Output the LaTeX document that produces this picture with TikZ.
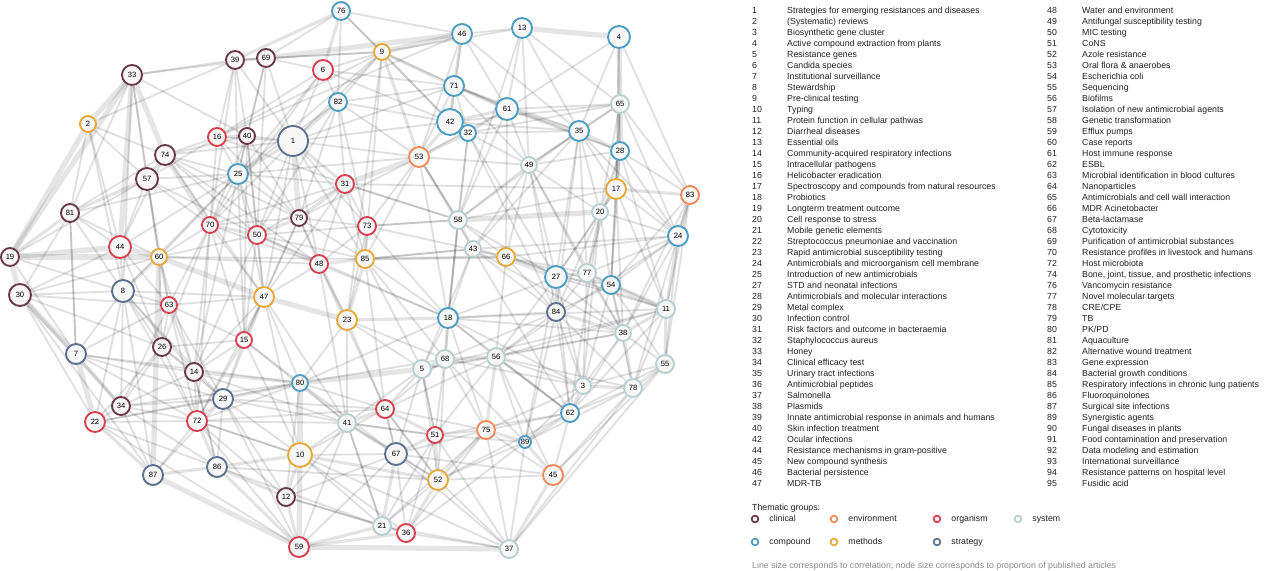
\documentclass[tikz,border=0pt]{standalone}
\usepackage{fontspec}
\setmainfont{Liberation Sans}
\usetikzlibrary{positioning}
\pgfdeclarelayer{background}
\pgfsetlayers{background,main}

\definecolor{clinc}{HTML}{6A3A4C}
\definecolor{envc}{HTML}{F08A5B}
\definecolor{orgc}{HTML}{D8414F}
\definecolor{sysc}{HTML}{B7CFCF}
\definecolor{compc}{HTML}{4C9DC1}
\definecolor{methc}{HTML}{E6A83A}
\definecolor{stratc}{HTML}{5D7090}
\definecolor{keytext}{HTML}{222222}
\definecolor{notetext}{HTML}{8A8A8A}

\begin{document}
\begin{tikzpicture}[
  x=0.03cm, y=-0.03cm,
  topic/.style={
    circle,
    fill=gray!6,
    line width=1.6pt,
    inner sep=0pt,
    font=\fontsize{6.5}{7}\selectfont
  },
  gclin/.style={draw=clinc},
  genv/.style={draw=envc},
  gorg/.style={draw=orgc},
  gsys/.style={draw=sysc},
  gcomp/.style={draw=compc},
  gmeth/.style={draw=methc},
  gstrat/.style={draw=stratc},
  bondthin/.style={draw=black, line width=1.6pt, draw opacity=0.12},
  bondmid/.style={draw=black, line width=2.7pt, draw opacity=0.11},
  bondthick/.style={draw=black, line width=4.5pt, draw opacity=0.10},
  keylist/.style={anchor=north west, inner sep=0pt, text=keytext,
    font=\fontsize{7.5}{9.39}\selectfont},
  marker/.style={circle, line width=1.5pt, minimum size=0.2cm, inner sep=0pt, fill=white},
  keylabel/.style={inner sep=0pt, text=keytext, text height=5.4pt, text depth=1.6pt,
    font=\fontsize{7.5}{9}\selectfont},
  node distance=0.3cm
]
\useasboundingbox (0,0) rectangle (1280,571);

% topics of the network
\foreach \n/\x/\y/\g/\r in {
  1/293/141/gstrat/15, 2/88/124/gmeth/8, 3/583/386/gsys/8, 4/619/37/gcomp/11,
  5/422/369/gsys/9, 6/323/70/gorg/10, 7/76/354/gstrat/10, 8/123/291/gstrat/11,
  9/382/52/gmeth/8, 10/300/455/gmeth/12, 11/666/309/gsys/9, 12/286/497/gclin/9,
  13/522/28/gcomp/10, 14/194/372/gclin/9, 15/244/340/gorg/8, 16/217/137/gorg/9,
  17/616/189/gmeth/10, 18/448/318/gcomp/10, 19/10/257/gclin/9, 20/600/212/gsys/8,
  21/382/526/gsys/9, 22/95/422/gorg/10, 23/347/320/gmeth/10, 24/678/236/gcomp/10,
  25/238/174/gcomp/10, 26/162/347/gclin/9, 27/556/277/gcomp/11, 28/620/151/gcomp/9,
  29/223/399/gstrat/10, 30/20/295/gclin/11, 31/345/184/gorg/9, 32/468/133/gcomp/8,
  33/132/75/gclin/10, 34/121/406/gclin/9, 35/579/131/gcomp/10, 36/406/533/gorg/9,
  37/509/549/gsys/9, 38/623/333/gsys/8, 39/235/60/gclin/9, 40/247/136/gclin/8,
  41/347/423/gsys/9, 42/450/122/gcomp/13, 43/473/249/gsys/8, 44/120/247/gorg/11,
  45/553/475/genv/10, 46/462/34/gcomp/10, 47/264/297/gmeth/10, 48/319/264/gorg/9,
  49/529/165/gsys/8, 50/257/235/gorg/9, 51/435/435/gorg/8, 52/438/480/gmeth/10,
  53/419/157/genv/10, 54/611/285/gcomp/9, 55/665/364/gsys/9, 56/496/357/gsys/9,
  57/147/179/gclin/11, 58/458/220/gsys/9, 59/299/547/gorg/10, 60/159/257/gmeth/8,
  61/507/109/gcomp/11, 62/570/413/gcomp/9, 63/169/305/gorg/8, 64/385/409/gorg/9,
  65/620/104/gsys/9, 66/506/257/gmeth/9, 67/396/454/gstrat/11, 68/445/359/gsys/9,
  69/266/58/gclin/9, 70/210/225/gorg/8, 71/454/86/gcomp/10, 72/197/421/gorg/10,
  73/367/226/gorg/9, 74/165/155/gclin/10, 75/486/430/genv/9, 76/341/11/gcomp/9,
  77/587/273/gsys/9, 78/633/388/gsys/9, 79/299/218/gclin/8, 80/300/383/gcomp/8,
  81/70/213/gclin/9, 82/338/102/gcomp/9, 83/690/195/genv/9, 84/556/312/gstrat/9,
  85/365/259/gmeth/9, 86/217/467/gstrat/10, 87/153/475/gstrat/10, 89/525/442/gcomp/6}{
  \pgfmathsetmacro\dia{0.06*\r}
  \node[topic, \g, minimum size=\dia cm] (n\n) at (\x,\y) {\n};
}

% correlations
\begin{pgfonlayer}{background}
\fill[white] (0,0) rectangle (1280,571);
\foreach \a/\b in {33/2, 33/74, 33/19, 2/19, 19/30, 19/44, 30/7, 60/87, 13/4, 4/65,
  65/28, 59/37, 59/87, 60/47, 47/23, 31/53, 1/79, 9/46, 69/46, 74/70, 44/60, 10/80,
  80/5, 59/10, 20/58, 54/11, 66/27, 33/44, 19/60, 7/22}
  \draw[bondthick] (n\a) -- (n\b);
\foreach \a/\b in {76/39, 76/6, 9/53, 9/71, 46/71, 61/42, 71/61, 35/28, 17/83, 28/17,
  24/83, 11/55, 55/78, 45/37, 52/36, 21/59, 36/59, 12/59, 86/59, 22/87, 34/30, 7/34,
  8/60, 57/81, 81/19, 74/57, 16/40, 25/1, 1/31, 82/1, 31/79, 79/50, 70/50, 50/48,
  48/85, 73/85, 85/23, 23/18, 18/68, 5/68, 68/56, 56/75, 75/52, 52/51, 51/67, 67/21,
  67/41, 41/64, 64/51, 14/80, 29/80, 72/86, 86/10, 10/12, 12/86, 10/52, 86/87, 58/43,
  43/66, 66/85, 27/77, 77/54, 84/38, 38/78, 3/62, 62/89, 89/45, 75/89, 3/78, 11/38,
  24/11, 20/17, 35/61, 42/32, 32/53, 71/42, 53/42}
  \draw[bondmid] (n\a) -- (n\b);
\foreach \a/\bl in {76/{69,82,9,42,46}, 33/{39,69,57,81,60,40,8},
  39/{69,40,16,25,1,70,9,2}, 69/{6,40,25,1,50,9}, 6/{82,1,9,25,70,16,71,42},
  9/{61,42,82,1,25,16,13,23,85}, 46/{13,61,42,35,53,16}, 13/{61,65,49,35,58},
  4/{35,28,61,17,83}, 71/{32,35,49,53,1,82,28}, 61/{32,65,28,49,58,66,53},
  42/{1,35,65}, 32/{35,65,58,18,49,27,84}, 65/{35,17,24,83,20,49,54},
  35/{49,17,20,77,27,84,58,43,24}, 28/{20,83,24,49,54,11,77},
  17/{24,54,58,31,11,38,27}, 83/{11,55,54,78,38}, 24/{55,54,77,20,66,38,43,56},
  20/{27,77,54,84,62,3,49}, 49/{58,27,66,84,53,77,43,38}, 58/{18,53,66,73,31,68,27},
  43/{18,84,38,5,85,62}, 66/{84,11,77,54,56}, 27/{54,84,38,11,56,62,3,18,89},
  77/{11,38,84,3}, 54/{38,78,84,3,55}, 84/{3,62,78,56,18,89,68}, 11/{78,62,56,5,18},
  38/{55,3,62,56,18,5}, 55/{45,37,3,62}, 78/{62,37,45,89}, 3/{56,89,75,68},
  62/{45,75,51,56,52}, 45/{52,75,67}, 89/{52,51,37,36}, 75/{51,36,21,37,64,67},
  37/{21,36,52,67,51,10}, 52/{21,67,64,86}, 51/{21,36,41,5},
  67/{36,59,64,10,5,12,80}, 21/{36,10,12,86,41}, 36/{10,12}, 59/{72,29,41,22},
  12/{29,72,41}, 10/{41,29,64,47,15,72}, 86/{22,29,34,14}, 87/{30,34,72,29,8},
  22/{30,34,8,72,29,80}, 34/{8,72,29,14,80,63,26}, 7/{19,8,14,29,80,63,72,81},
  30/{8,44,60,63,26,81}, 19/{57,8}, 81/{2,44,74,8,60,25,7}, 2/{44,57,74,8},
  44/{57,8,74,26,63,25}, 60/{63,26,50,70,25,85,48,57,14}, 8/{63,26,14,72,29,47,25},
  57/{25,16,70,50,63}, 74/{16,25,40,79,50,47,48,1}, 16/{25,70,79,1,31},
  40/{25,1,70,50,79,47,15}, 1/{50,48,73,70,47,85}, 25/{70,50,79,47,31,15,82,53,14},
  82/{31,53,79,50,73,42}, 31/{73,48,50,70,58,85,47}, 53/{73,85,58,79,43,18,1},
  79/{48,73,85,47,70,15,23}, 70/{48,47,15,63,14,26,72}, 50/{47,73,85,15,14,18},
  48/{73,23,47,18,41,64}, 73/{23,58,18,66}, 85/{18,66,43,68,5,64},
  47/{15,63,72,14,80,29,41}, 23/{80,5,64,41,68}, 15/{14,72,29,80,26,63,41},
  63/{26,14,72,29}, 26/{14,72,29,22}, 14/{29,72,86,41}, 29/{72,41,64},
  72/{80,41,64,10}, 80/{41,64,68,18,12}, 41/{5,51,52,21}, 64/{5,68,56,67,52},
  5/{56,18,51,52}, 68/{51,75,52,89}, 18/{56,62,75,3}, 56/{89,45,51,62,78}}{
  \foreach \b in \bl
    \draw[bondthin] (n\a) -- (n\b);
}
\end{pgfonlayer}

% topic list
\node[keylist] (keyleft) at (752,5.5) {%
\begin{tabular}{@{}p{1.05cm}@{}l@{}}
1 & Strategies for emerging resistances and diseases\\
2 & (Systematic) reviews\\
3 & Biosynthetic gene cluster\\
4 & Active compound extraction from plants\\
5 & Resistance genes\\
6 & Candida species\\
7 & Institutional surveillance\\
8 & Stewardship\\
9 & Pre-clinical testing\\
10 & Typing\\
11 & Protein function in cellular pathwas\\
12 & Diarrheal diseases\\
13 & Essential oils\\
14 & Community-acquired respiratory infections\\
15 & Intracellular pathogens\\
16 & Helicobacter eradication\\
17 & Spectroscopy and compounds from natural resources\\
18 & Probiotics\\
19 & Longterm treatment outcome\\
20 & Cell response to stress\\
21 & Mobile genetic elements\\
22 & Streptococcus pneumoniae and vaccination\\
23 & Rapid antimicrobial susceptibility testing\\
24 & Antimicrobials and microorganism cell membrane\\
25 & Introduction of new antimicrobials\\
27 & STD and neonatal infections\\
28 & Antimicrobials and molecular interactions\\
29 & Metal complex\\
30 & Infection control\\
31 & Risk factors and outcome in bacteraemia\\
32 & Staphylococcus aureus\\
33 & Honey\\
34 & Clinical efficacy test\\
35 & Urinary tract infections\\
36 & Antimicrobial peptides\\
37 & Salmonella\\
38 & Plasmids\\
39 & Innate antimicrobial response in animals and humans\\
40 & Skin infection treatment\\
42 & Ocular infections\\
44 & Resistance mechanisms in gram-positive\\
45 & New compound synthesis\\
46 & Bacterial persistence\\
47 & MDR-TB
\end{tabular}};
\node[keylist] (keyright) at (1047,5.5) {%
\begin{tabular}{@{}p{1.05cm}@{}l@{}}
48 & Water and environment\\
49 & Antifungal susceptibility testing\\
50 & MIC testing\\
51 & CoNS\\
52 & Azole resistance\\
53 & Oral flora \& anaerobes\\
54 & Escherichia coli\\
55 & Sequencing\\
56 & Biofilms\\
57 & Isolation of new antimicrobial agents\\
58 & Genetic transformation\\
59 & Efflux pumps\\
60 & Case reports\\
61 & Host immune response\\
62 & ESBL\\
63 & Microbial identification in blood cultures\\
64 & Nanoparticles\\
65 & Antimicrobials and cell wall interaction\\
66 & MDR Acinetobacter\\
67 & Beta-lactamase\\
68 & Cytotoxicity\\
69 & Purification of antimicrobial substances\\
70 & Resistance profiles in livestock and humans\\
72 & Host microbiota\\
74 & Bone, joint, tissue, and prosthetic infections\\
76 & Vancomycin resistance\\
77 & Novel molecular targets\\
78 & CRE/CPE\\
79 & TB\\
80 & PK/PD\\
81 & Aquaculture\\
82 & Alternative wound treatment\\
83 & Gene expression\\
84 & Bacterial growth conditions\\
85 & Respiratory infections in chronic lung patients\\
86 & Fluoroquinolones\\
87 & Surgical site infections\\
89 & Synergistic agents\\
90 & Fungal diseases in plants\\
91 & Food contamination and preservation\\
92 & Data modeling and estimation\\
93 & International surveillance\\
94 & Resistance patterns on hospital level\\
95 & Fusidic acid
\end{tabular}};

% thematic groups
\node[keylabel, anchor=base west] (grouptitle) at (752,510.5) {Thematic groups:};
\node[marker, draw=clinc] (kclin) at (755,519) {};
\node[marker, draw=envc] (kenv) at (834,519) {};
\node[marker, draw=orgc] (korg) at (937,519) {};
\node[marker, draw=sysc] (ksys) at (1018,519) {};
\node[marker, draw=compc] (kcomp) at (755,542) {};
\node[marker, draw=methc] (kmeth) at (834,542) {};
\node[marker, draw=stratc] (kstrat) at (937,542) {};
\node[keylabel, right=of kclin] (lclin) {clinical};
\node[keylabel, right=of kenv] (lenv) {environment};
\node[keylabel, right=of korg] (lorg) {organism};
\node[keylabel, right=of ksys] (lsys) {system};
\node[keylabel, right=of kcomp] (lcomp) {compound};
\node[keylabel, right=of kmeth] (lmeth) {methods};
\node[keylabel, right=of kstrat] (lstrat) {strategy};
\node[keylabel, anchor=base west, text=notetext] (footnote) at (752,568)
  {Line size corresponds to correlation; node size corresponds to proportion of published articles};

\end{tikzpicture}
\end{document}
